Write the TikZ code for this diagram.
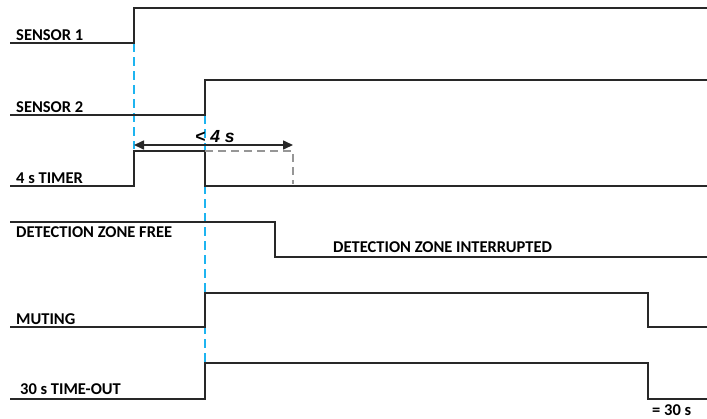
\documentclass[tikz,border=0pt]{standalone}
\usepackage{fontspec}
\setmainfont{Carlito}
\newfontfamily\arialfont{Liberation Sans}
\usetikzlibrary{arrows.meta}
\definecolor{SigLine}{RGB}{40,40,40}
\definecolor{SyncBlue}{RGB}{30,180,240}
\definecolor{StubGray}{RGB}{150,150,150}
\begin{document}
\begin{tikzpicture}[x=1pt,y=-1pt,>=Stealth,font=\fontsize{16.5}{19}\selectfont\bfseries]
    \tikzset{
      signal/.style={SigLine,line width=1.4pt},
      sync/.style={SyncBlue,line width=1.3pt,dash pattern=on 9pt off 5pt},
      stub/.style={StubGray,line width=1.2pt,dash pattern=on 8pt off 5pt},
      siglabel/.style={anchor=base west,inner sep=0pt}
    }
    \useasboundingbox (0,0) rectangle (707,418);
    % sync marks
    \draw[sync] (134,43) -- (134,149);
    \draw[sync] (205,115) -- (205,363);
    % signals
    \draw[signal] (10,43) -- (134,43) -- (134,8) -- (707,8);
    \draw[signal] (10,115) -- (205,115) -- (205,80) -- (707,80);
    \draw[signal] (10,186) -- (134,186) -- (134,151) -- (205,151) -- (205,186) -- (707,186);
    \draw[stub] (205,151) -- (293,151) -- (293,184);
    \draw[signal] (10,222) -- (275,222) -- (275,257) -- (707,257);
    \draw[signal] (10,327) -- (205,327) -- (205,293) -- (648,293) -- (648,327) -- (707,327);
    \draw[signal] (10,399) -- (205,399) -- (205,363) -- (648,363) -- (648,399) -- (707,399);
    % 4 s window
    \draw[{Triangle[length=10pt,width=9pt]}-{Triangle[length=10pt,width=9pt]},SigLine,line width=1.6pt] (134,145) -- (293,145);
    \node[siglabel,font=\arialfont\fontsize{17.5}{19}\selectfont\bfseries\itshape] (lim) at (195,142) {< 4 s};
    % labels
    \node[siglabel] (s1) at (16,40) {SENSOR 1};
    \node[siglabel] (s2) at (16,112) {SENSOR 2};
    \node[siglabel] (tmr) at (16,183) {4 s TIMER};
    \node[siglabel] (free) at (16,237) {DETECTION ZONE FREE};
    \node[siglabel] (intr) at (333,252) {DETECTION ZONE INTERRUPTED};
    \node[siglabel] (mut) at (16,324) {MUTING};
    \node[siglabel] (tout) at (20,394) {30 s TIME-OUT};
    \node[siglabel] (eq) at (652,415) {= 30 s};
  \end{tikzpicture}
\end{document}
